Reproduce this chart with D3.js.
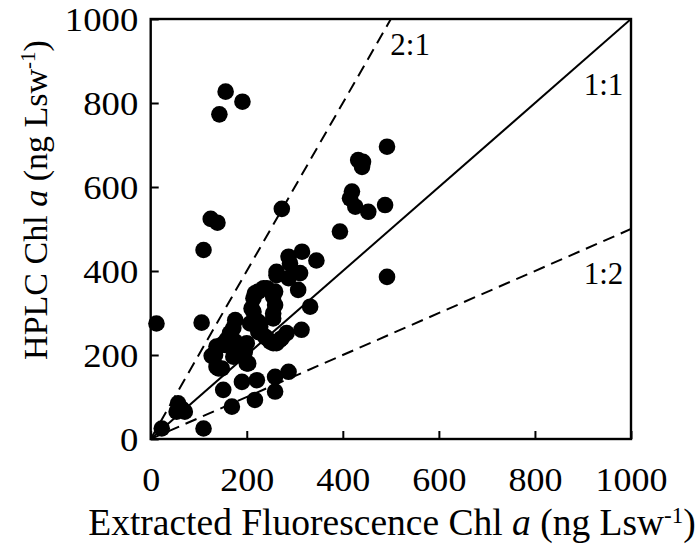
<!DOCTYPE html>
<html>
<head>
<meta charset="utf-8">
<script src="https://cdn.jsdelivr.net/npm/d3@7/dist/d3.min.js"></script>
<style>
  html, body { margin: 0; padding: 0; background: #fff; }
  svg { display: block; }
  text { font-family: "Liberation Serif", "Times New Roman", serif; fill: #000; }
</style>
</head>
<body>
<svg id="chart" width="699" height="550"></svg>
<script>
// Extracted fluorescence Chl a (x) and HPLC Chl a (y), ng Lsw-1
const fluorX = [
  156, 191, 143, 125, 139, 110, 273,
  492, 432, 442, 440, 419, 415, 426, 453, 488, 394, 345, 492,
  12, 106,
  23, 110, 57, 71, 54, 65,
  169, 151, 190, 221, 217, 259, 259, 287,
  127, 137, 148, 165, 176, 172, 158, 137, 141, 186, 200, 172, 155, 134, 196, 148, 176,
  207, 214, 224, 242, 262, 255, 259, 214, 235, 259, 224, 242, 210, 224, 249, 273, 262, 287,
  262, 311, 287, 315, 290, 307, 332, 314, 283, 269, 255, 255, 255, 228, 238, 200, 203, 217
];
const hplcY = [
  827, 803, 773, 524, 515, 450, 548,
  696, 664, 660, 648, 589, 573, 553, 541, 557, 494, 425, 386,
  275, 277,
  25, 25, 85, 65, 65, 72,
  77, 117, 136, 140, 93, 148, 113, 160,
  198, 172, 224, 252, 283, 264, 236, 220, 168, 220, 180, 196, 224, 200, 208, 168, 232,
  275, 303, 255, 240, 228, 287, 319, 335, 359, 351, 351, 359, 311, 279, 232, 240, 398, 383,
  390, 395, 434, 446, 418, 355, 315, 260, 252, 236, 228, 339, 299, 267, 244, 228, 180, 347
];
const xTicks = [0, 200, 400, 600, 800, 1000];
const yTicks = [0, 200, 400, 600, 800, 1000];
const ratioLines = [
  { name: "2:1", slope: 2, dashed: true },
  { name: "1:1", slope: 1, dashed: false },
  { name: "1:2", slope: 0.5, dashed: true }
];
const ratioLabels = [
  { name: "2:1", x: 499, y: 914, anchor: "start" },
  { name: "1:1", x: 984, y: 820, anchor: "end" },
  { name: "1:2", x: 984, y: 370, anchor: "end" }
];

const svg = d3.select("#chart");
const pLeft = 150.7, pRight = 631, pTop = 19, pBottom = 439;
const x = d3.scaleLinear().domain([0, 1000]).range([pLeft, pRight]);
const y = d3.scaleLinear().domain([0, 1000]).range([pBottom, pTop]);

svg.append("defs").append("clipPath").attr("id", "plotclip")
  .append("rect").attr("x", pLeft).attr("y", pTop)
  .attr("width", pRight - pLeft).attr("height", pBottom - pTop);

const lineGen = d3.line().x(d => x(d[0])).y(d => y(d[1]));
svg.append("g").attr("clip-path", "url(#plotclip)")
  .selectAll("path").data(ratioLines).join("path")
  .attr("d", d => {
    const xe = Math.min(1000, 1000 / d.slope);
    return lineGen([[0, 0], [xe, xe * d.slope]]);
  })
  .attr("fill", "none")
  .attr("stroke", "#000")
  .attr("stroke-width", 2)
  .attr("stroke-dasharray", d => d.dashed ? "12,7" : null);

svg.append("g").selectAll("circle")
  .data(fluorX.map((v, i) => [v, hplcY[i]]))
  .join("circle")
  .attr("cx", d => x(d[0]))
  .attr("cy", d => y(d[1]))
  .attr("r", 8.3)
  .attr("fill", "#000");

const xAxis = d3.axisBottom(x).tickValues(xTicks).tickSizeInner(-8).tickSizeOuter(0).tickPadding(0)
  .tickFormat(d3.format("d"));
const gx = svg.append("g").attr("transform", `translate(0,${pBottom})`).call(xAxis);
gx.select(".domain").remove();
gx.selectAll("line").attr("stroke", "#000").attr("stroke-width", 2);
gx.selectAll("text").attr("y", 52).attr("dy", null)
  .attr("font-size", 34).attr("transform", "scale(1.06,1)")
  .style("font-family", '"Liberation Serif", serif');

const yAxis = d3.axisLeft(y).tickValues(yTicks).tickSizeInner(-8).tickSizeOuter(0).tickPadding(0)
  .tickFormat(d3.format("d"));
const gy = svg.append("g").attr("transform", `translate(${pLeft},0)`).call(yAxis);
gy.select(".domain").remove();
gy.selectAll("line").attr("stroke", "#000").attr("stroke-width", 2);
gy.selectAll("text").attr("x", -11.5).attr("dy", "0.34em")
  .attr("font-size", 34).attr("transform", "scale(1.08,1)")
  .style("font-family", '"Liberation Serif", serif');

svg.append("rect").attr("x", pLeft).attr("y", pTop)
  .attr("width", pRight - pLeft).attr("height", pBottom - pTop)
  .attr("fill", "none").attr("stroke", "#000").attr("stroke-width", 2.4);

svg.append("g").selectAll("text").data(ratioLabels).join("text")
  .attr("x", d => x(d.x)).attr("y", d => y(d.y))
  .attr("text-anchor", d => d.anchor)
  .attr("font-size", 31)
  .text(d => d.name);

const xt = svg.append("text")
  .attr("x", 392).attr("y", 535)
  .attr("text-anchor", "middle")
  .attr("font-size", 37.5);
xt.append("tspan").text("Extracted Fluorescence Chl ");
xt.append("tspan").attr("font-style", "italic").text("a");
xt.append("tspan").text(" (ng Lsw");
xt.append("tspan").attr("baseline-shift", "super").attr("font-size", 23).text("-1");
xt.append("tspan").text(")");

const yt = svg.append("text")
  .attr("transform", "translate(47,200) rotate(-90)")
  .attr("text-anchor", "middle")
  .attr("font-size", 34);
yt.append("tspan").text("HPLC Chl ");
yt.append("tspan").attr("font-style", "italic").text("a");
yt.append("tspan").text(" (ng Lsw");
yt.append("tspan").attr("baseline-shift", "super").attr("font-size", 21).text("-1");
yt.append("tspan").text(")");
</script>
</body>
</html>
